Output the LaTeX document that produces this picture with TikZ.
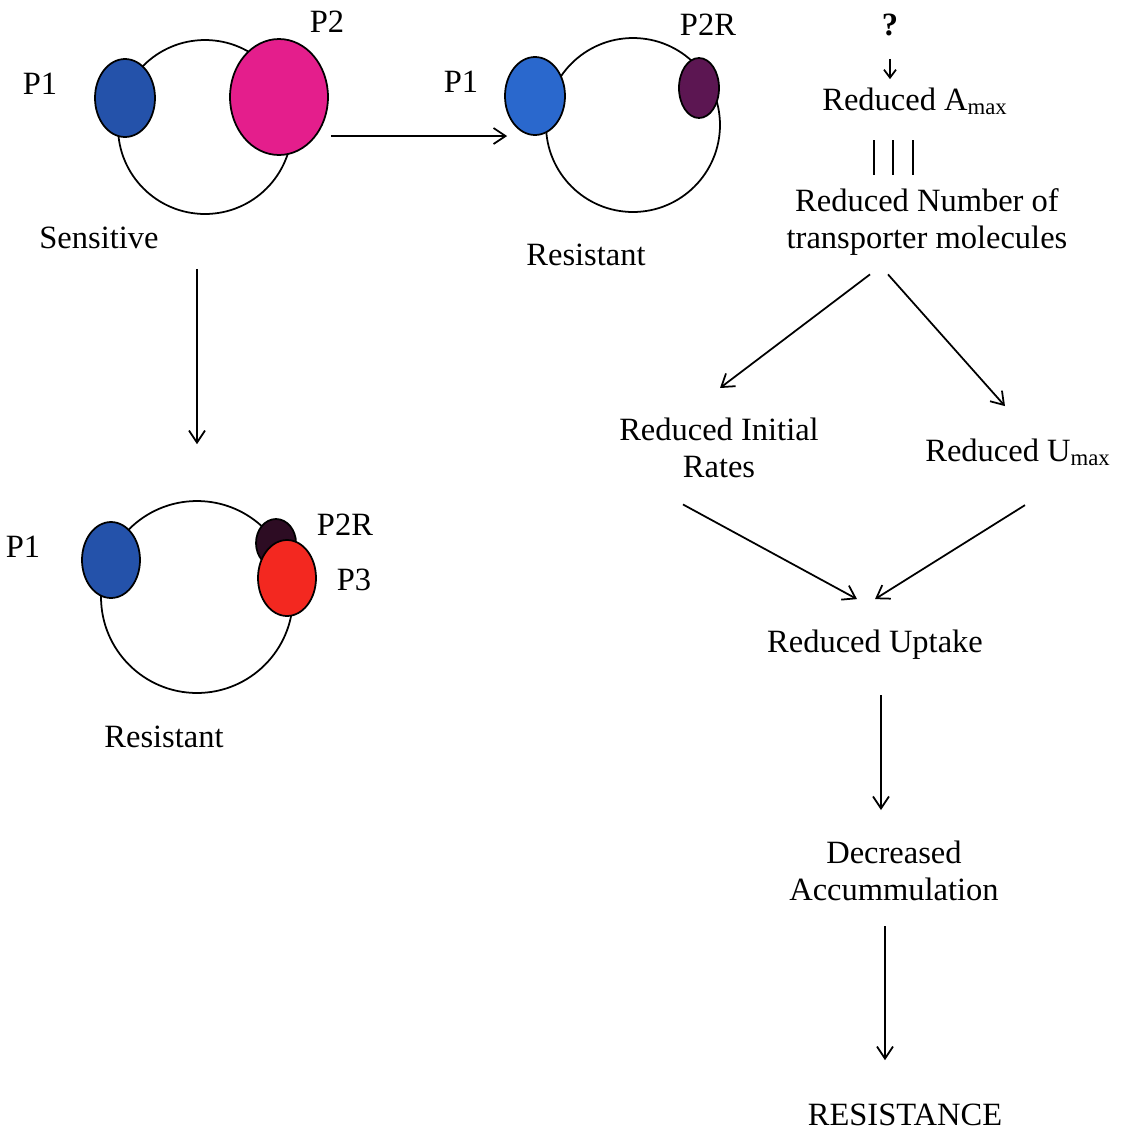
\documentclass[tikz,border=0pt]{standalone}
\usepackage{fontspec}
\setmainfont{Liberation Serif}
\usepackage{tikz}
\usetikzlibrary{shapes.geometric,arrows.meta,calc}
\definecolor{pone}{RGB}{36,82,170}
\definecolor{ponebright}{RGB}{42,104,205}
\definecolor{ptwo}{RGB}{228,30,140}
\definecolor{ptwor}{RGB}{92,22,82}
\definecolor{ptwordark}{RGB}{45,12,35}
\definecolor{pthree}{RGB}{243,40,32}

\tikzset{
  lbl/.style={font=\fontsize{18.5}{21}\selectfont, inner sep=0pt, align=center},
  cell/.style={circle, draw, line width=1pt, inner sep=0pt},
  blob/.style={ellipse, draw, line width=1pt, inner sep=0pt},
  arr/.style={-{Straight Barb[length=2.4mm,width=3.2mm]}, line width=1pt},
  arrsmall/.style={-{Straight Barb[length=1.6mm,width=2.4mm]}, line width=1pt}
}

\begin{document}
\begin{tikzpicture}[x=0.02cm, y=-0.02cm]
        \useasboundingbox (0,0) rectangle (1134,1130);
        % Sensitive cell
        \node[cell, minimum size=3.48cm] (cellS) at (205,127) {};
        \node[blob, fill=pone, minimum width=1.2cm, minimum height=1.56cm] (sP1) at (125,98) {};
        \node[blob, fill=ptwo, minimum width=1.96cm, minimum height=2.32cm] (sP2) at (279,97) {};
        \node[lbl, anchor=base] (lsP1) at (40,94) {P1};
        \node[lbl, anchor=base] (lsP2) at (327,32) {P2};
        \node[lbl, anchor=base] (lsens) at (99,248) {Sensitive};
        % Resistant cell, P2 mutated
        \node[cell, minimum size=3.48cm] (cellR) at (633,125) {};
        \node[blob, fill=ponebright, minimum width=1.2cm, minimum height=1.56cm] (rP1) at (535,96) {};
        \node[blob, fill=ptwor, minimum width=0.8cm, minimum height=1.2cm] (rP2R) at (699,88) {};
        \node[lbl, anchor=base] (lrP1) at (461,92) {P1};
        \node[lbl, anchor=base] (lrP2R) at (708,35) {P2R};
        \node[lbl, anchor=base] (lres1) at (586,265) {Resistant};
        % Resistant cell with P3
        \node[cell, minimum size=3.84cm] (cellM) at (197,597) {};
        \node[blob, fill=pone, minimum width=1.16cm, minimum height=1.52cm] (mP1) at (111,560) {};
        \node[blob, fill=ptwordark, minimum width=0.8cm, minimum height=0.96cm] (mP2R) at (276,543) {};
        \node[blob, fill=pthree, minimum width=1.16cm, minimum height=1.52cm] (mP3) at (287,578) {};
        \node[lbl, anchor=base] (lmP1) at (23,557) {P1};
        \node[lbl, anchor=base] (lmP2R) at (345,535) {P2R};
        \node[lbl, anchor=base] (lmP3) at (354,590) {P3};
        \node[lbl, anchor=base] (lres2) at (164,747) {Resistant};
        % Arrows between cells
        \draw[arr] ($(sP2.east)+(2,39)$) -- ($(rP1.west)+(3,40)$);
        \draw[arr] ($(cellS.south)+(-8,54)$) -- ($(cellM.north)+(0,-56)$);
        % Mechanism
        \node[lbl, anchor=base] (q) at (890,35) {\textbf{?}};
        \node[lbl, anchor=base] (amax) at (915,110) {Reduced A\textsubscript{max}};
        \node[lbl, anchor=north] (num) at (927,188) {Reduced Number of\\transporter molecules};
        \node[lbl, anchor=north] (init) at (719,418) {Reduced Initial\\Rates};
        \node[lbl, anchor=base] (umax) at (1018,461) {Reduced U\textsubscript{max}};
        \node[lbl, anchor=base] (upt) at (875,652) {Reduced Uptake};
        \node[lbl, anchor=north] (acc) at (894,841) {Decreased\\Accummulation};
        \node[lbl, anchor=base] (res) at (905,1125) {RESISTANCE};
        \draw[arrsmall, shorten <=0.46cm, shorten >=0.16cm] (q.south) -- (q.south |- amax.north);
        % Equivalence bars
        \foreach \bx in {874,893,913}
          \draw[line width=1pt] (\bx,140) -- (\bx,175);
        \draw[arr] ($(num.south)+(-57,19)$) -- ($(init.north)+(1,-30)$);
        \draw[arr] ($(num.south)+(-39,19)$) -- ($(umax.north)+(-13,-32)$);
        \draw[arr] ($(init.south)+(-36,26)$) -- ($(upt.north)+(-18,-30)$);
        \draw[arr] ($(umax.south)+(7,39)$) -- ($(upt.north)+(0,-30)$);
        \draw[arr] ($(upt.south)+(6,36)$) -- ($(acc.north)+(-13,-31)$);
        \draw[arr] ($(acc.south)+(-9,25)$) -- ($(res.north)+(-20,-43)$);
\end{tikzpicture}
\end{document}
